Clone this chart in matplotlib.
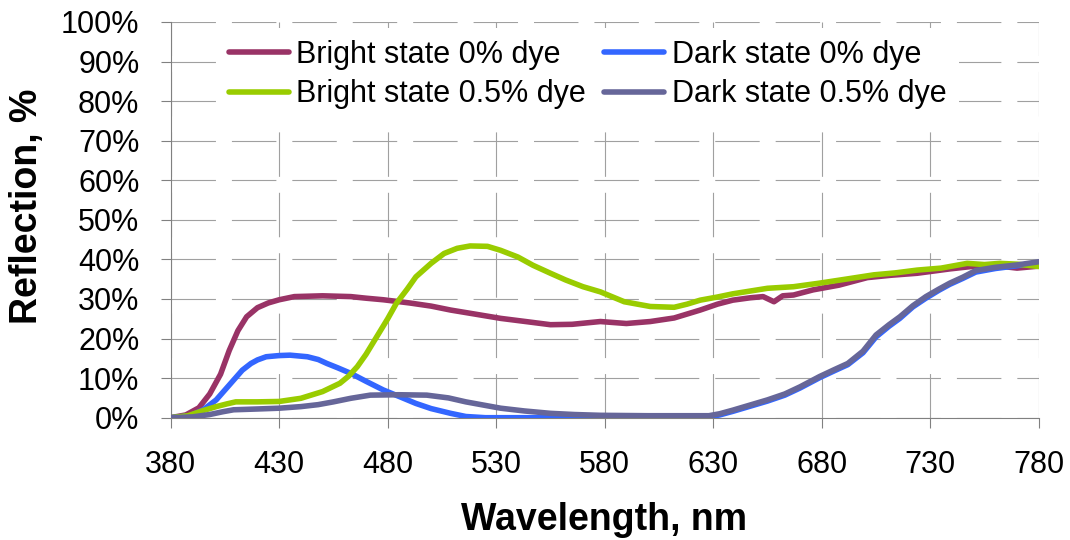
import matplotlib
matplotlib.use("Agg")
import matplotlib.pyplot as plt
from matplotlib.ticker import MultipleLocator, PercentFormatter

plt.rcParams["font.family"] = ["Liberation Sans", "DejaVu Sans"]
plt.rcParams["lines.scale_dashes"] = False

# bright state, 0% dye
wl_bright0 = [380, 387, 393, 398, 403, 407, 411, 415, 420, 425, 430, 437, 450, 463,
              470, 478, 490, 500, 509, 520, 532, 545, 555, 565, 578, 590, 601, 612,
              618, 624, 632, 639, 647, 653, 658, 662, 667, 676, 688, 701, 712, 724,
              739, 754, 762, 770, 780]
r_bright0 = [0, 0.7, 2.5, 6, 11, 17, 22, 25.5, 27.8, 29, 29.8, 30.6, 30.8, 30.6,
             30.2, 29.8, 29, 28.2, 27.2, 26.2, 25.1, 24.2, 23.5, 23.6, 24.3, 23.8, 24.3, 25.2,
             26.2, 27.2, 28.7, 29.7, 30.3, 30.6, 29.3, 30.8, 31, 32.3, 33.5, 35.4, 36, 36.5,
             37.6, 38.5, 38.3, 37.8, 38.3]

# bright state, 0.5% dye
wl_bright05 = [380, 388, 395, 401, 406, 410, 420, 430, 440, 450, 458, 462, 466, 470,
               475, 480, 484, 489, 493, 500, 506, 512, 518, 526, 532, 540, 547, 555,
               562, 570, 578, 589, 601, 612, 618, 624, 632, 639, 647, 655, 667, 679,
               691, 704, 714, 724, 735, 747, 755, 762, 770, 780]
r_bright05 = [0, 0.5, 1.8, 2.8, 3.5, 4.0, 4.0, 4.1, 4.9, 6.6, 8.7, 10.5, 12.9, 16,
              20.5, 25, 28.9, 32.5, 35.6, 39, 41.5, 42.8, 43.4, 43.3, 42.3, 40.6, 38.5, 36.5,
              34.8, 33.1, 31.8, 29.3, 28.1, 27.9, 28.7, 29.7, 30.5, 31.3, 32, 32.7, 33.1, 34,
              35, 36.1, 36.6, 37.3, 37.8, 39, 38.7, 39, 38.8, 38.2]

# dark state, 0% dye
wl_dark0 = [380, 389, 395, 401, 405, 409, 413, 417, 420, 424, 430, 435, 443, 448,
            452, 457, 463, 470, 478, 486, 493, 500, 509, 516, 525, 560, 600, 628,
            633, 639, 647, 655, 663, 670, 679, 686, 692, 699, 705, 711, 716, 722,
            728, 734, 739, 745, 751, 760, 770, 780]
r_dark0 = [0, 0.5, 2, 4.5, 7, 9.5, 12, 13.7, 14.6, 15.4, 15.7, 15.8, 15.4, 14.7,
           13.7, 12.6, 11.2, 9.2, 7.0, 5.2, 3.6, 2.3, 1.1, 0.3, 0, 0, 0, 0.2,
           0.7, 1.6, 2.9, 4.2, 5.7, 7.5, 10.1, 11.9, 13.4, 16.4, 20.4, 23.1, 25.1, 28,
           30.2, 32.2, 33.7, 35.2, 36.8, 37.7, 38.4, 39.2]

# dark state, 0.5% dye
wl_dark05 = [380, 390, 398, 404, 409, 420, 430, 440, 448, 455, 463, 472, 485, 498,
             508, 516, 524, 532, 543, 555, 566, 578, 600, 628, 633, 639, 647, 655,
             663, 670, 679, 686, 692, 699, 705, 711, 716, 722, 728, 734, 739, 745,
             751, 760, 770, 780]
r_dark05 = [0, 0.2, 0.8, 1.5, 2.0, 2.2, 2.4, 2.8, 3.3, 4.0, 4.9, 5.7, 5.8, 5.7,
            5.0, 4.0, 3.2, 2.4, 1.7, 1.1, 0.8, 0.6, 0.5, 0.5, 1.0, 1.9, 3.2, 4.5,
            6.0, 7.8, 10.4, 12.2, 13.7, 16.8, 20.9, 23.5, 25.5, 28.3, 30.6, 32.5, 34.0, 35.5,
            37.2, 38.0, 38.6, 39.4]

labels = ["Bright state 0% dye", "Dark state 0% dye",
          "Bright state 0.5% dye", "Dark state 0.5% dye"]
colors = ["#993366", "#3366FF", "#99CC00", "#666699"]
x_ticks = [380, 430, 480, 530, 580, 630, 680, 730, 780]

fig = plt.figure(figsize=(10.7, 5.4), dpi=100)
ax = fig.add_axes([0.1595, 0.2265, 0.8113, 0.7328])

series = [(wl_bright0, r_bright0), (wl_dark0, r_dark0),
          (wl_bright05, r_bright05), (wl_dark05, r_dark05)]
handles = []
for (wl, r), lab, col in zip(series, labels, colors):
    h, = ax.plot(wl, r, color=col, linewidth=4.0, label=lab,
                 solid_capstyle="round", solid_joinstyle="round", zorder=3)
    handles.append(h)

ax.set_xlim(380, 780)
ax.set_ylim(0, 100)
ax.set_xticks(x_ticks)
ax.yaxis.set_major_locator(MultipleLocator(10))
ax.yaxis.set_major_formatter(PercentFormatter(decimals=0))

ax.grid(True, color="#a0a0a0", linewidth=0.8, linestyle=(0, (32, 11.5)), zorder=1)
ax.set_axisbelow(True)
for side in ("top", "right"):
    ax.spines[side].set_visible(False)
for side in ("left", "bottom"):
    ax.spines[side].set_color("#808080")
    ax.spines[side].set_linewidth(0.8)
ax.tick_params(axis="both", direction="out", length=7.5, width=0.8,
               color="#808080", labelsize=22)
ax.tick_params(axis="y", pad=15)
ax.tick_params(axis="x", pad=16)

ax.set_xlabel("Wavelength, nm", fontsize=27, fontweight="bold", va="center")
ax.set_ylabel("Reflection, %", fontsize=27, fontweight="bold", va="center")
ax.xaxis.set_label_coords(0.499, -0.2585)
ax.yaxis.set_label_coords(-0.165, 0.535)

order = [handles[0], handles[2], handles[1], handles[3]]
leg = ax.legend(handles=order, labels=[h.get_label() for h in order], ncol=2,
                loc="upper left", bbox_to_anchor=(0.0533, 0.985), borderaxespad=0,
                fontsize=22, frameon=True, fancybox=False, framealpha=1,
                facecolor="white", edgecolor="none", borderpad=0.4,
                handlelength=1.95, handletextpad=0.25, columnspacing=0.6,
                labelspacing=0.3)
leg.set_zorder(5)

fig.savefig("out.png", dpi=100)
